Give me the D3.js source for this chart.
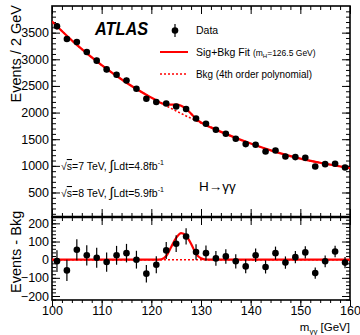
<!DOCTYPE html>
<html>
<head>
<meta charset="utf-8">
<script src="https://cdn.jsdelivr.net/npm/d3@7"></script>
<style>
  body { margin: 0; background: #fff; }
  text { font-family: "Liberation Sans", Arial, sans-serif; fill: #000; }
</style>
</head>
<body>
<svg id="chart" width="360" height="335"></svg>
<script>
// ---- data
const mass = [101,103,105,107,109,111,113,115,117,119,121,123,125,127,129,
              131,133,135,137,139,141,143,145,147,149,151,153,155,157,159];
const events = [3619,3381,3325,3137,2974,2810,2711,2603,2447,2259,2197,2171,2115,2068,1889,
                1789,1677,1602,1508,1408,1395,1270,1288,1175,1164,1150,987,1032,1038,968];
const errors = [60,58,58,56,55,53,52,51,49,48,47,47,46,45,43,
                42,41,40,39,38,37,36,36,34,34,34,31,32,32,31];
const residual = [-8,-59,55,24,11,-13,24,36,0,-77,-28,51,88,128,42,
                  36,7,18,-9,-37,24,-40,36,-16,14,40,-74,-9,45,-16];

const fitMass = [100,105,110,115,120,121,122,123,124,125,126,127,128,129,130,131,132,135,140,145,150,155,160];
const bkgFit  = [3710,3270,2890,2560,2280,2228,2177,2127,2078,2030,1983,1937,1892,1848,1805,1763,1722,1600,1418,1262,1135,1040,958];
const sigFit  = [0,0,0,0,0,0,2,20,70,120,146,132,88,32,8,1,0,0,0,0,0,0,0];

const xTicks = [100,110,120,130,140,150,160];
const yTopTicks = [500,1000,1500,2000,2500,3000,3500];
const yBotTicks = [-200,-100,0,100,200];

// ---- layout
const L = 52, R = 350, T = 6, MID = 217, B = 300;
const svg = d3.select('#chart');

const x = d3.scaleLinear().domain([100, 160]).range([L, R]);
const yTop = d3.scaleLinear().domain([40, 4000]).range([MID, T]);
const yBot = d3.scaleLinear().domain([-222, 235]).range([B, MID]);

svg.append('clipPath').attr('id', 'clipTop')
  .append('rect').attr('x', L).attr('y', T).attr('width', R - L).attr('height', MID - T);
svg.append('clipPath').attr('id', 'clipBot')
  .append('rect').attr('x', L).attr('y', MID).attr('width', R - L).attr('height', B - MID);

// inward ticks helper (major with labels, minor without)
function ticks(g, axisFn, scale, major, minor, majLen, minLen, labels) {
  g.append('g').call(axisFn(scale).tickValues(minor).tickSize(minLen).tickFormat(''))
    .call(s => s.select('.domain').remove());
  const a = g.append('g').call(axisFn(scale).tickValues(major).tickSize(majLen)
      .tickFormat(labels ? d3.format('d') : ''));
  a.select('.domain').remove();
  g.selectAll('line').attr('stroke', '#000').attr('stroke-width', 1);
  return a;
}
const range = (a, b, s) => d3.range(a, b + s / 2, s);

// ---- top panel axes
let g = svg.append('g').attr('transform', `translate(${L},0)`);
let a = ticks(g, d3.axisLeft, yTop, yTopTicks, range(100, 3900, 100), -8, -4, true);
a.selectAll('text').attr('x', -3).attr('font-size', 12.5);
g = svg.append('g').attr('transform', `translate(${R},0)`);
ticks(g, d3.axisRight, yTop, yTopTicks, range(100, 3900, 100), -8, -4, false);
g = svg.append('g').attr('transform', `translate(0,${T})`);
ticks(g, d3.axisTop, x, xTicks, range(100, 160, 2), -8, -4, false);
g = svg.append('g').attr('transform', `translate(0,${MID})`);
ticks(g, d3.axisBottom, x, xTicks, range(100, 160, 2), -8, -4, false);

// ---- bottom panel axes
g = svg.append('g').attr('transform', `translate(${L},0)`);
a = ticks(g, d3.axisLeft, yBot, yBotTicks, range(-220, 220, 20), -8, -4, true);
a.selectAll('text').attr('x', -3).attr('font-size', 12.5);
g = svg.append('g').attr('transform', `translate(${R},0)`);
ticks(g, d3.axisRight, yBot, yBotTicks, range(-220, 220, 20), -8, -4, false);
g = svg.append('g').attr('transform', `translate(0,${MID})`);
ticks(g, d3.axisTop, x, xTicks, range(100, 160, 2), -8, -4, false);
g = svg.append('g').attr('transform', `translate(0,${B})`);
a = ticks(g, d3.axisTop, x, xTicks, range(100, 160, 2), -6, -3, true);
a.selectAll('text').attr('y', 6).attr('dy', '0.71em').attr('font-size', 12.5);

// frames
svg.append('rect').attr('x', L).attr('y', T).attr('width', R - L).attr('height', MID - T)
  .attr('fill', 'none').attr('stroke', '#000').attr('stroke-width', 1.6);
svg.append('rect').attr('x', L).attr('y', MID).attr('width', R - L).attr('height', B - MID)
  .attr('fill', 'none').attr('stroke', '#000').attr('stroke-width', 1.6);
svg.append('line').attr('x1', L).attr('x2', R).attr('y1', MID).attr('y2', MID)
  .attr('stroke', '#000').attr('stroke-width', 2.4);

// ---- curves
const red = '#ff0000';
const gTop = svg.append('g').attr('clip-path', 'url(#clipTop)');
const gBot = svg.append('g').attr('clip-path', 'url(#clipBot)');

const fitPts = fitMass.map((m, i) => ({ m, b: bkgFit[i], s: sigFit[i] }));
const lineBkg = d3.line().x(d => x(d.m)).y(d => yTop(d.b)).curve(d3.curveMonotoneX);
const lineSB = d3.line().x(d => x(d.m)).y(d => yTop(d.b + d.s)).curve(d3.curveMonotoneX);
gTop.append('path').attr('d', lineBkg(fitPts)).attr('fill', 'none')
  .attr('stroke', red).attr('stroke-width', 1.6).attr('stroke-dasharray', '2,2');
gTop.append('path').attr('d', lineSB(fitPts)).attr('fill', 'none')
  .attr('stroke', red).attr('stroke-width', 2.2);

const lineZero = d3.line().x(d => x(d.m)).y(() => yBot(0));
const lineSig = d3.line().x(d => x(d.m)).y(d => yBot(d.s)).curve(d3.curveMonotoneX);
gBot.append('path').attr('d', lineZero(fitPts)).attr('fill', 'none')
  .attr('stroke', red).attr('stroke-width', 1.6).attr('stroke-dasharray', '2,2');
gBot.append('path').attr('d', lineSig(fitPts))
  .attr('fill', 'none').attr('stroke', red).attr('stroke-width', 2.2);

// ---- data points
const pts = mass.map((m, i) => ({ m, n: events[i], e: errors[i], r: residual[i] }));
gTop.selectAll('line.err').data(pts).enter().append('line')
  .attr('x1', d => x(d.m)).attr('x2', d => x(d.m))
  .attr('y1', d => yTop(d.n - d.e)).attr('y2', d => yTop(d.n + d.e))
  .attr('stroke', '#000').attr('stroke-width', 1.2);
gTop.selectAll('circle').data(pts).enter().append('circle')
  .attr('cx', d => x(d.m)).attr('cy', d => yTop(d.n)).attr('r', 3.3).attr('fill', '#000');

gBot.selectAll('line.err').data(pts).enter().append('line')
  .attr('x1', d => x(d.m)).attr('x2', d => x(d.m))
  .attr('y1', d => yBot(d.r - d.e)).attr('y2', d => yBot(d.r + d.e))
  .attr('stroke', '#000').attr('stroke-width', 1.2);
gBot.selectAll('circle').data(pts).enter().append('circle')
  .attr('cx', d => x(d.m)).attr('cy', d => yBot(d.r)).attr('r', 3.3).attr('fill', '#000');

// ---- labels
svg.append('text').attr('transform', `translate(21,${T - 1}) rotate(-90)`)
  .attr('text-anchor', 'end').attr('font-size', 14.5).text('Events / 2 GeV');
svg.append('text').attr('transform', `translate(21,${B - 7}) rotate(-90)`)
  .attr('text-anchor', 'start').attr('font-size', 14.5).text('Events - Bkg');
const xt = svg.append('text').attr('x', R).attr('y', 331).attr('text-anchor', 'end').attr('font-size', 11.5);
xt.append('tspan').text('m');
xt.append('tspan').attr('font-size', 8).attr('dy', 3).text('γγ');
xt.append('tspan').attr('dy', -3).text(' [GeV]');

svg.append('text').attr('x', 95).attr('y', 35).attr('font-size', 18)
  .attr('font-weight', 'bold').attr('font-style', 'italic')
  .attr('textLength', 53).attr('lengthAdjust', 'spacingAndGlyphs').text('ATLAS');

// legend
const lg = svg.append('g');
lg.append('line').attr('x1', 175).attr('x2', 175).attr('y1', 24).attr('y2', 37)
  .attr('stroke', '#000').attr('stroke-width', 1.2);
lg.append('circle').attr('cx', 175).attr('cy', 30.5).attr('r', 3.3).attr('fill', '#000');
lg.append('text').attr('x', 196).attr('y', 34).attr('font-size', 10.5).text('Data');
lg.append('line').attr('x1', 160).attr('x2', 188).attr('y1', 52).attr('y2', 52)
  .attr('stroke', red).attr('stroke-width', 2);
const t2 = lg.append('text').attr('x', 196).attr('y', 56).attr('font-size', 10.5);
t2.append('tspan').text('Sig+Bkg Fit ');
t2.append('tspan').attr('font-size', 8.5).text('(m');
t2.append('tspan').attr('font-size', 6).attr('dy', 2).text('H');
t2.append('tspan').attr('font-size', 8.5).attr('dy', -2).text('=126.5 GeV)');
lg.append('line').attr('x1', 160).attr('x2', 188).attr('y1', 74).attr('y2', 74)
  .attr('stroke', red).attr('stroke-width', 1.6).attr('stroke-dasharray', '2,2');
lg.append('text').attr('x', 196).attr('y', 78).attr('font-size', 10)
  .attr('textLength', 116).attr('lengthAdjust', 'spacingAndGlyphs').text('Bkg (4th order polynomial)');

function lumi(y, tev, l) {
  const t = svg.append('text').attr('x', 61).attr('y', y).attr('font-size', 10.5);
  t.append('tspan').text('√');
  t.append('tspan').attr('text-decoration', 'overline').text('s');
  t.append('tspan').text(`=${tev} TeV, `);
  t.append('tspan').attr('font-size', 14).text('∫');
  t.append('tspan').text(`Ldt=${l}fb`);
  t.append('tspan').attr('font-size', 7).attr('dy', -5).text('-1');
}
lumi(170, 7, '4.8');
lumi(197, 8, '5.9');

svg.append('text').attr('x', 199).attr('y', 191).attr('font-size', 13.5).text('H→γγ');
</script>
</body>
</html>
